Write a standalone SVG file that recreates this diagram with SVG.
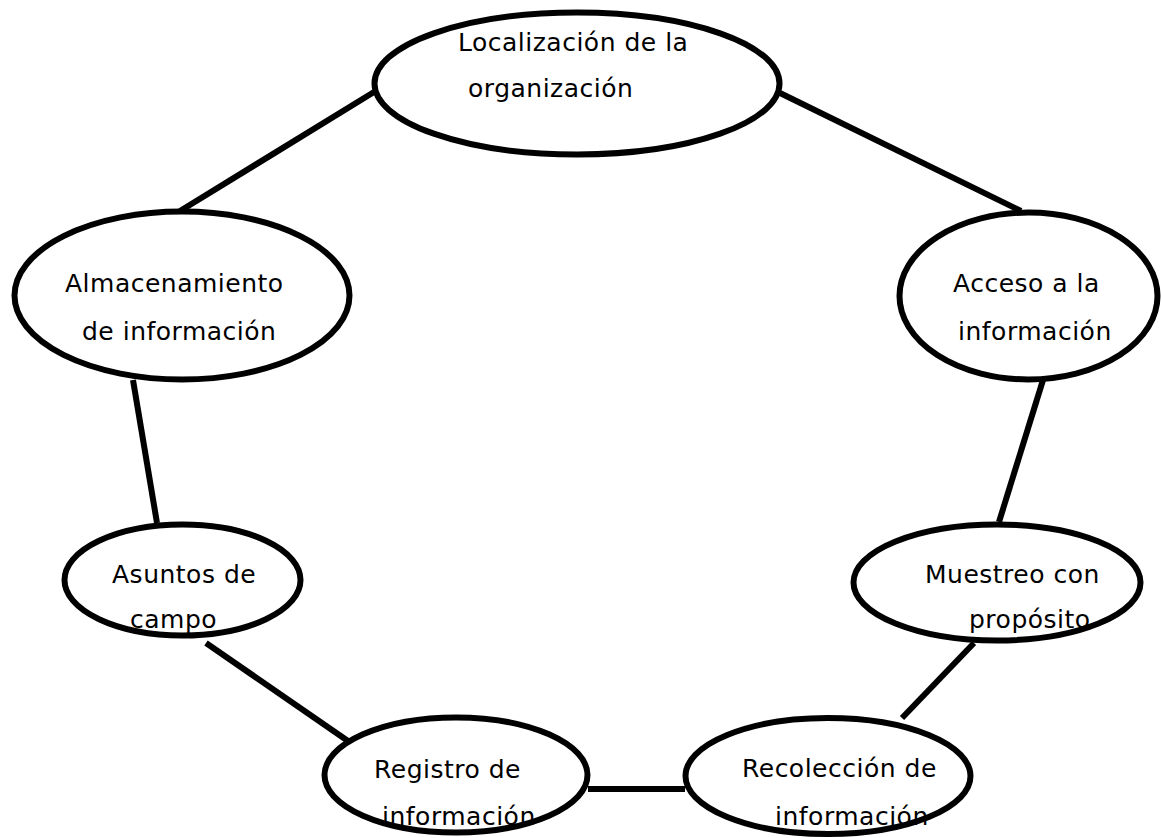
<svg xmlns="http://www.w3.org/2000/svg" width="1162" height="838" viewBox="0 0 1162 838">
  <style>
    .node ellipse { fill: #ffffff; stroke: #000000; stroke-width: 6; }
    .node text { font-family: "DejaVu Sans", Verdana, sans-serif; font-size: 25px; letter-spacing: 0.5px; fill: #000000; }
    #connectors line { stroke: #000000; stroke-width: 6; stroke-linecap: butt; }
  </style>
  <rect width="1162" height="838" fill="#ffffff"/>

  <g id="connectors">
    <line x1="374" y1="92" x2="180" y2="211"/>
    <line x1="780" y1="93" x2="1021" y2="211"/>
    <line x1="1043" y1="380" x2="999" y2="522"/>
    <line x1="974" y1="643" x2="902" y2="718"/>
    <line x1="588" y1="789" x2="685" y2="789"/>
    <line x1="206" y1="643" x2="348" y2="741"/>
    <line x1="133" y1="380" x2="157" y2="523"/>
  </g>

  <g id="node-localizacion" class="node">
    <ellipse cx="577" cy="83.5" rx="202.5" ry="71"/>
    <text x="458" y="51">Localización de la</text>
    <text x="468" y="97">organización</text>
  </g>

  <g id="node-acceso" class="node">
    <ellipse cx="1028.5" cy="296" rx="129" ry="83.5"/>
    <text x="953" y="292">Acceso a la</text>
    <text x="958" y="340">información</text>
  </g>

  <g id="node-muestreo" class="node">
    <ellipse cx="997" cy="582.5" rx="143.5" ry="58"/>
    <text x="925" y="583">Muestreo con</text>
    <text x="969" y="628">propósito</text>
  </g>

  <g id="node-recoleccion" class="node">
    <ellipse cx="828" cy="776" rx="142.5" ry="58"/>
    <text x="742" y="777">Recolección de</text>
    <text x="775" y="825">información</text>
  </g>

  <g id="node-registro" class="node">
    <ellipse cx="456" cy="775" rx="131.5" ry="57.5"/>
    <text x="374" y="778">Registro de</text>
    <text x="382" y="825">información</text>
  </g>

  <g id="node-asuntos" class="node">
    <ellipse cx="182.5" cy="580" rx="118" ry="55.5"/>
    <text x="112" y="583">Asuntos de</text>
    <text x="130" y="628">campo</text>
  </g>

  <g id="node-almacenamiento" class="node">
    <ellipse cx="182" cy="295.5" rx="167.5" ry="84"/>
    <text x="65" y="292">Almacenamiento</text>
    <text x="82" y="340">de información</text>
  </g>
</svg>
